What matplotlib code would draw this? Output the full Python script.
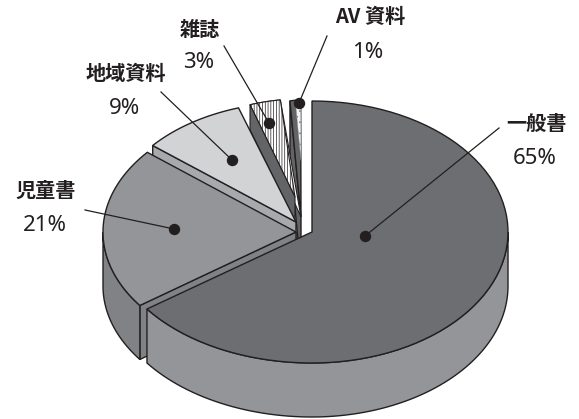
# -*- coding: utf-8 -*-
import numpy as np
import matplotlib
matplotlib.use('Agg')
import matplotlib.pyplot as plt
from matplotlib.patches import Polygon

plt.rcParams['font.family'] = ['Noto Sans CJK JP', 'DejaVu Sans']
plt.rcParams['hatch.linewidth'] = 0.5

categories = ['一般書', '児童書', '地域資料', '雑誌', 'AV 資料']
shares = [65, 21, 9, 3, 1]
pct_labels = ['65%', '21%', '9%', '3%', '1%']

# apex and radii of each slice, the slices are pulled apart by hand
centers = [(312, 232), (296, 232), (296, 222), (301, 217), (301, 217)]
radii_right = [196, 193, 186, 165, 88]
radii_left = [204, 193, 186, 165, 88]
radii_y = [131, 125, 120, 118, 117]
depth = 54

top_cols = ['#6d6e71', '#939598', '#d1d3d4', 'white', '#636466']
side_cols = ['#939598', '#808285', '#a7a9ac', '#636466', '#636466']
edge = '#231f20'

# leader: text end, dot
leader_from = [(499, 128), (85, 210), (161, 92), (224, 46), (327, 36)]
leader_dot = [(365, 236), (174, 229), (232, 160), (269, 123), (299, 103)]
name_pos = [(536, 123), (46, 190), (126, 73), (200, 29), (370, 16)]
pct_pos = [(535, 158), (45, 225), (125, 108), (199, 63), (368, 53)]


def arc(cx, cy, i, a, b, scale=1.0):
    t = np.radians(np.linspace(a, b, 80))
    s = np.sin(t)
    rx = np.where(s >= 0, radii_right[i], radii_left[i]) * scale
    return np.column_stack([cx + rx * s, cy - radii_y[i] * scale * np.cos(t)])


def shape(ax, pts, fc, z, lw=1.0, **kw):
    kw.setdefault('ec', edge)
    ax.add_patch(Polygon(pts, closed=True, fc=fc, lw=lw, zorder=z, joinstyle='miter', **kw))


fig = plt.figure(figsize=(5.79, 4.19), dpi=100)
ax = fig.add_axes([0, 0, 1, 1])
ax.set_xlim(0, 579)
ax.set_ylim(419, 0)
ax.axis('off')

ends = np.cumsum(shares) * 3.6
starts = ends - np.array(shares) * 3.6
ends[4] = starts[4] + 7  # AV wedge is drawn wider than its share

# back to front
for i in [4, 3, 2, 1, 0]:
    cx, cy = centers[i]
    z = 10 - i
    a, b = starts[i], ends[i]
    top = arc(cx, cy, i, a, b)
    if i == 3:
        # magazines: dark face cuts into the hatched top
        inner = np.array([295, 197])
        p = top[0]
        shape(ax, np.vstack([[(cx, cy)], top]), 'white', z, lw=0.8)
        shape(ax, np.vstack([[inner], top]), 'white', z, lw=0.8, hatch='||||||')
        shape(ax, [p, inner, inner + (0, 25), p + (0, 25)], side_cols[i], z, lw=0.8)
        continue
    # cut face towards the viewer
    if i > 0:
        p = top[0]
        shape(ax, [(cx, cy), p, p + (0, depth), (cx, cy + depth)], side_cols[i], z)
    # outer wall
    lo, hi = max(a, 90), min(b, 270)
    if lo < hi:
        w = arc(cx, cy, i, lo, hi)
        shape(ax, np.vstack([w, (w + (0, depth))[::-1]]), side_cols[i], z)
    shape(ax, np.vstack([[(cx, cy)], top]), top_cols[i], z)

# dotted part of the AV slice on top of its dark face
cx, cy = centers[4]
shape(ax, np.vstack([[(cx, cy - 56)], arc(cx, cy - 56, 4, starts[4], ends[4], 0.51)]), '#f4f4f4', 7,
      lw=0.3, hatch='...', ec='#808285')

for i in range(5):
    x0, y0 = leader_from[i]
    x1, y1 = leader_dot[i]
    ax.plot([x0, x1], [y0, y1], color=edge, lw=0.9, zorder=20)
    ax.plot(x1, y1, 'o', color=edge, ms=7.2, zorder=21)
    ax.text(name_pos[i][0], name_pos[i][1], categories[i], fontsize=14.5, fontweight='bold', color=edge, ha='center', va='center')
    ax.text(pct_pos[i][0], pct_pos[i][1], pct_labels[i], fontsize=16, color=edge, ha='center', va='center', family=['Noto Sans', 'DejaVu Sans'])

fig.savefig('out.png', dpi=100)
